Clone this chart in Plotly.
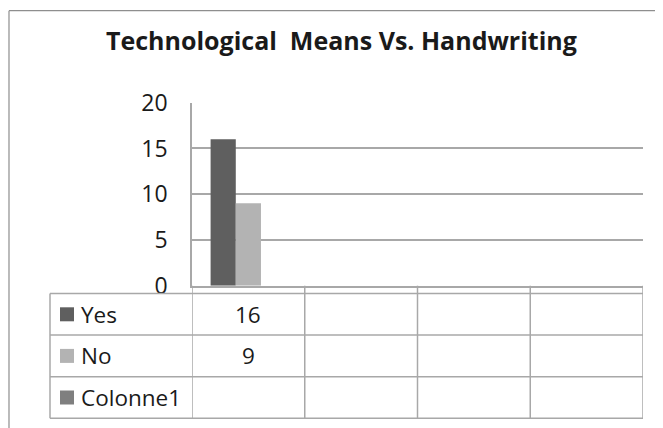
import plotly.graph_objects as go

# ---- data ----
category_index = [0, 1, 2, 3]          # four (unlabelled) category slots
category_labels = ["", "", "", ""]
series_names = ["Yes", "No", "Colonne1"]
yes_values = [16, None, None, None]
no_values = [9, None, None, None]
colonne1_values = [None, None, None, None]
y_ticks = [0, 5, 10, 15, 20]
title_text = "Technological\u00a0 Means Vs. Handwriting"

series_values = [yes_values, no_values, colonne1_values]
series_colors = ["#5f5f5f", "#b3b3b3", "#7f7f7f"]

W, H = 663, 428
OFF = 8  # page body margin of the html page
def px(x):
    return (x - OFF) / W
def py(y):
    return 1 - (y - OFF) / H

FONT = "Open Sans"
GRID = "#a8a8a8"
TEXT = "#1a1a1a"

fig = go.Figure()
for name, vals, col in zip(series_names, series_values, series_colors):
    fig.add_trace(go.Bar(x=category_index, y=vals, name=name,
                         marker=dict(color=col, line=dict(width=0)),
                         showlegend=False))

plot_left, plot_right = 192, 643
plot_top, plot_bottom = 102.7, 285.7
table_left = 50
table_top = 293.5
row_h = 41.6

shapes = []
# outer chart frame
shapes.append(dict(type="line", xref="paper", yref="paper", x0=0.0015, x1=0.0015,
                   y0=py(10.7), y1=-0.1, line=dict(color="#8e8e8e", width=1.2)))
shapes.append(dict(type="line", xref="paper", yref="paper", x0=0.0015, x1=1.05,
                   y0=py(10.7), y1=py(10.7), line=dict(color="#8e8e8e", width=1.2)))
# table horizontal lines
for k in range(4):
    yy = table_top + k * row_h
    shapes.append(dict(type="line", xref="paper", yref="paper",
                       x0=px(table_left), x1=px(plot_right), y0=py(yy), y1=py(yy),
                       line=dict(color=GRID, width=1.5)))
tbl_bottom = table_top + 3 * row_h
# table left edge
shapes.append(dict(type="line", xref="paper", yref="paper",
                   x0=px(table_left), x1=px(table_left), y0=py(table_top), y1=py(tbl_bottom),
                   line=dict(color=GRID, width=1.5)))
# column separators at category boundaries (data coords)
for b in [c - 0.5 for c in category_index] + [category_index[-1] + 0.5]:
    shapes.append(dict(type="line", xref="x", yref="paper",
                       x0=b, x1=b, y0=py(plot_bottom), y1=py(tbl_bottom),
                       line=dict(color=GRID, width=1.5)))

annotations = []
annotations.append(dict(text="<b>" + title_text + "</b>", x=px(341.5), y=py(40),
                        xref="paper", yref="paper", xanchor="center", yanchor="middle",
                        showarrow=False, font=dict(family=FONT, size=25, color=TEXT)))
for r, (name, vals, col) in enumerate(zip(series_names, series_values, series_colors)):
    cy = table_top + (r + 0.5) * row_h
    shapes.append(dict(type="rect", xref="paper", yref="paper",
                       x0=px(60), x1=px(74), y0=py(cy - 7), y1=py(cy + 7),
                       fillcolor=col, line=dict(width=0)))
    annotations.append(dict(text=name, x=px(79), y=py(cy), xref="paper", yref="paper",
                            xanchor="left", yanchor="middle", showarrow=False,
                            font=dict(family=FONT, size=22.5, color=TEXT)))
    for ci, v in zip(category_index, vals):
        if v is not None:
            annotations.append(dict(text=str(v), x=ci, y=py(cy), xref="x", yref="paper",
                                    xanchor="center", yanchor="middle", showarrow=False,
                                    font=dict(family=FONT, size=22.5, color=TEXT)))

fig.update_layout(
    width=W, height=H,
    margin=dict(l=0, r=0, t=0, b=0, pad=0, autoexpand=False),
    paper_bgcolor="white", plot_bgcolor="white",
    barmode="group", bargap=0.33, bargroupgap=0,
    xaxis=dict(domain=[px(plot_left), px(plot_right)], range=[-0.5, 3.5],
               tickvals=category_index, ticktext=category_labels, automargin=False,
               showticklabels=False, showgrid=False, zeroline=False,
               showline=True, linecolor=GRID, linewidth=1.5, ticks=""),
    yaxis=dict(domain=[py(plot_bottom), py(plot_top)], range=[0, 20], automargin=False,
               tickvals=y_ticks, showgrid=True, gridcolor=GRID, gridwidth=1.5,
               zeroline=False, showline=True, linecolor=GRID, linewidth=1.5,
               ticks="", ticklabelstandoff=18,
               tickfont=dict(family=FONT, size=23, color=TEXT)),
    shapes=shapes, annotations=annotations,
    font=dict(family=FONT),
)

fig.write_html("out.html")
